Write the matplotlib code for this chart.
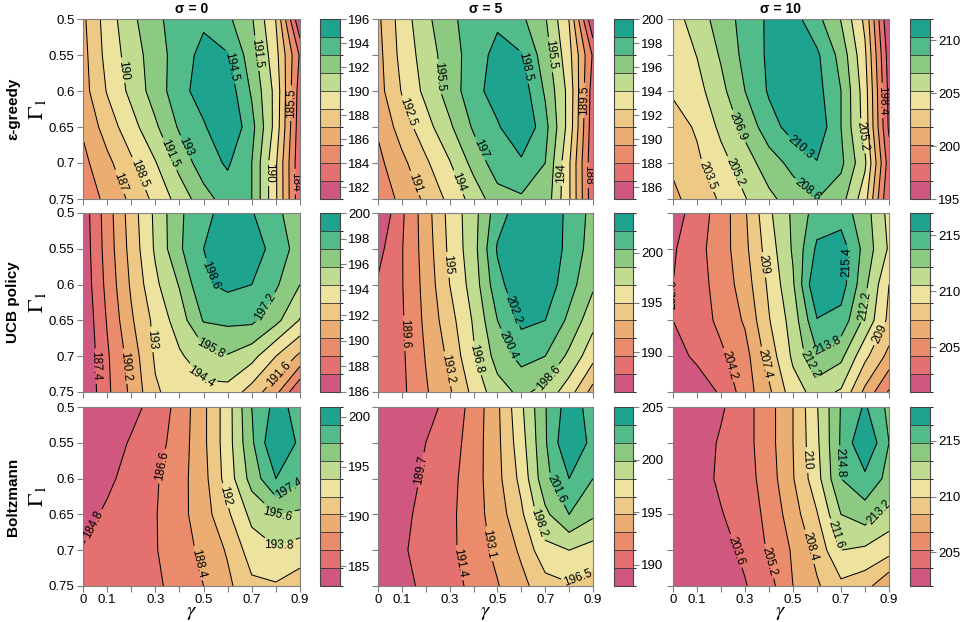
import numpy as np
import matplotlib
matplotlib.use("Agg")
import matplotlib.pyplot as plt

plt.rcParams['font.family'] = ['Liberation Sans', 'DejaVu Sans']
plt.rcParams['mathtext.fontset'] = 'stix'

# grid axes
gamma = [0.0, 0.1, 0.2, 0.3, 0.4, 0.5, 0.6, 0.7, 0.8, 0.9]
gamma1 = [0.5, 0.55, 0.6, 0.65, 0.7, 0.75]

sigma_titles = ["σ = 0", "σ = 5", "σ = 10"]
policy_names = ["ε-greedy", "UCB policy", "Boltzmann"]

# mean reward, rows = Gamma1 (0.5 .. 0.75), columns = gamma (0 .. 0.9)
eps_s0 = [
    [186.7, 189.2, 191.1, 192.7, 193.6, 194.2, 193.3, 191.65, 188.45, 181.0],
    [186.5, 189.0, 190.7, 192.3, 193.7, 195.0, 194.6, 192.2, 189.0, 183.8],
    [186.4, 188.6, 190.4, 192.2, 193.9, 195.3, 195.4, 192.8, 189.5, 183.2],
    [185.7, 187.7, 189.4, 191.25, 193.2, 194.3, 196.0, 193.5, 189.4, 183.0],
    [185.1, 186.6, 188.25, 189.9, 192.0, 193.8, 194.7, 193.0, 188.7, 182.8],
    [184.5, 185.9, 187.3, 188.9, 190.6, 192.4, 193.7, 193.0, 188.7, 182.9],
]
eps_s5 = [
    [190.7, 193.2, 195.1, 196.7, 197.6, 198.2, 197.3, 195.65, 192.45, 185.0],
    [190.5, 193.0, 194.7, 196.3, 197.7, 199.0, 198.6, 196.2, 193.0, 187.8],
    [190.4, 192.6, 194.4, 196.2, 197.9, 199.3, 199.4, 196.8, 193.5, 187.2],
    [189.7, 191.7, 193.4, 195.25, 197.2, 198.3, 200.0, 197.5, 193.4, 187.0],
    [189.1, 190.6, 192.25, 193.9, 196.0, 197.8, 198.2, 197.0, 192.7, 186.8],
    [188.5, 189.9, 191.3, 192.9, 194.6, 196.4, 196.8, 196.5, 192.7, 186.9],
]
eps_s10 = [
    [204.5, 206.0, 207.7, 209.2, 210.6, 211.0, 209.1, 206.8, 203.1, 195.0],
    [204.0, 205.25, 207.1, 209.1, 210.6, 211.6, 210.6, 208.0, 203.8, 195.8],
    [203.7, 204.6, 206.4, 208.6, 210.5, 212.0, 210.9, 208.6, 204.3, 196.2],
    [202.8, 203.7, 205.6, 207.4, 209.6, 211.0, 211.5, 208.6, 204.5, 196.4],
    [202.1, 203.2, 204.6, 206.1, 207.8, 209.1, 210.2, 209.0, 205.5, 197.5],
    [201.4, 202.6, 203.7, 205.1, 206.5, 207.7, 208.6, 207.6, 204.2, 196.7],
]
ucb_s0 = [
    [186.6, 189.5, 192.3, 194.7, 197.0, 198.1, 199.3, 198.7, 197.5, 196.4],
    [186.5, 189.4, 192.1, 194.6, 197.0, 198.6, 200.0, 199.4, 198.0, 196.6],
    [186.4, 189.2, 191.8, 194.1, 195.9, 198.4, 198.9, 198.6, 197.4, 195.8],
    [186.2, 188.9, 191.4, 193.4, 195.1, 197.3, 197.5, 197.5, 196.2, 194.3],
    [186.1, 188.6, 190.8, 193.2, 194.2, 195.2, 195.7, 194.9, 193.0, 191.3],
    [186.0, 188.5, 190.5, 192.8, 193.7, 194.0, 193.9, 192.4, 190.6, 187.4],
]
ucb_s5 = [
    [186.0, 189.3, 192.4, 195.6, 197.9, 201.4, 203.2, 203.4, 201.8, 199.8],
    [187.2, 189.5, 192.2, 195.4, 197.9, 202.4, 204.0, 203.7, 201.6, 199.6],
    [188.0, 189.5, 192.0, 195.0, 197.6, 201.6, 203.6, 203.3, 201.1, 198.9],
    [188.3, 189.4, 191.8, 194.3, 197.0, 200.4, 202.6, 202.2, 200.0, 197.4],
    [188.4, 189.3, 191.5, 193.6, 196.6, 199.3, 201.0, 200.4, 198.2, 195.6],
    [188.5, 189.2, 191.2, 193.0, 195.5, 197.9, 199.0, 198.0, 195.8, 192.5],
]
ucb_s10 = [
    [201.8, 203.4, 204.9, 207.2, 210.3, 212.5, 214.5, 214.6, 212.9, 210.1],
    [202.4, 203.7, 205.0, 207.0, 209.8, 212.4, 215.7, 216.3, 213.2, 210.4],
    [202.6, 203.6, 204.8, 206.6, 209.3, 212.0, 217.0, 216.2, 212.6, 209.0],
    [202.6, 203.4, 204.6, 206.0, 208.9, 211.3, 215.3, 214.8, 211.8, 208.6],
    [202.0, 202.9, 203.9, 205.2, 208.1, 210.9, 213.6, 212.6, 209.4, 206.9],
    [201.0, 201.7, 202.8, 205.0, 207.1, 209.9, 211.2, 210.4, 207.0, 204.0],
]
boltz_s0 = [
    [183.0, 183.3, 184.2, 185.5, 187.2, 189.8, 193.0, 197.4, 199.8, 198.6],
    [183.1, 183.8, 185.0, 185.9, 187.4, 189.8, 193.0, 197.1, 201.0, 198.8],
    [183.6, 184.4, 185.5, 186.4, 187.7, 189.6, 192.8, 196.3, 199.2, 197.6],
    [184.2, 185.1, 185.9, 186.5, 187.8, 189.4, 191.7, 194.3, 195.6, 195.3],
    [184.9, 185.4, 186.0, 186.5, 187.5, 188.9, 190.4, 192.9, 193.6, 193.0],
    [185.3, 185.5, 185.9, 186.3, 187.2, 188.4, 189.8, 191.6, 191.8, 191.0],
]
boltz_s5 = [
    [188.0, 188.3, 189.0, 190.3, 192.0, 194.5, 197.9, 201.5, 204.2, 202.6],
    [188.1, 188.6, 189.7, 190.6, 192.2, 194.4, 197.5, 201.4, 205.0, 202.7],
    [188.3, 188.9, 190.0, 190.9, 192.3, 194.3, 197.0, 201.1, 203.3, 201.6],
    [188.6, 189.3, 190.2, 191.0, 192.4, 193.9, 196.2, 199.5, 201.6, 200.2],
    [188.8, 189.5, 190.3, 191.0, 192.3, 193.5, 195.1, 197.7, 198.2, 197.5],
    [188.9, 189.3, 190.0, 190.8, 191.8, 193.0, 194.3, 195.8, 196.3, 195.6],
]
boltz_s10 = [
    [202.0, 202.5, 203.4, 204.6, 206.2, 208.4, 211.5, 214.9, 216.6, 214.4],
    [202.1, 202.8, 203.8, 204.6, 206.2, 208.4, 211.3, 215.0, 218.0, 214.8],
    [202.2, 202.9, 203.9, 204.5, 206.0, 208.3, 211.0, 214.8, 216.0, 214.3],
    [202.3, 202.8, 203.5, 204.4, 205.6, 207.7, 209.9, 213.2, 214.0, 212.5],
    [202.2, 202.6, 203.1, 203.9, 205.4, 207.0, 208.9, 211.6, 211.3, 210.6],
    [202.1, 202.4, 202.9, 203.5, 204.6, 206.8, 208.2, 209.6, 209.0, 207.0],
]

panels = [
    [eps_s0, eps_s5, eps_s10],
    [ucb_s0, ucb_s5, ucb_s10],
    [boltz_s0, boltz_s5, boltz_s10],
]

# contour labels: (level, gamma, Gamma1) near which the label is placed
labels = [
    [[(194.5, 0.542, 0.571), (190, 0.167, 0.571), (191.5, 0.361, 0.687),
      (193, 0.431, 0.677), (188.5, 0.236, 0.714), (187, 0.153, 0.726),
      (191.5, 0.708, 0.548), (185.5, 0.868, 0.617), (190, 0.743, 0.714),
      (184, 0.875, 0.726)],
     [(191, 0.169, 0.726), (192.5, 0.156, 0.626), (195.5, 0.260, 0.580),
      (194, 0.343, 0.726), (197, 0.447, 0.677), (198.5, 0.538, 0.571),
      (195.5, 0.711, 0.550), (194, 0.767, 0.714), (189.5, 0.857, 0.613),
      (188, 0.885, 0.717)],
     [(206.9, 0.264, 0.650), (203.5, 0.146, 0.717), (205.2, 0.25, 0.714),
      (210.3, 0.535, 0.677), (208.6, 0.597, 0.726), (205.2, 0.778, 0.663),
      (198.4, 0.889, 0.613)]],
    [[(187.4, 0.035, 0.714), (190.2, 0.167, 0.714), (193, 0.264, 0.677),
      (194.4, 0.486, 0.730), (195.8, 0.528, 0.688), (197.2, 0.729, 0.626),
      (198.6, 0.583, 0.582), (191.6, 0.806, 0.723)],
     [(195, 0.267, 0.573), (189.6, 0.1, 0.668), (193.2, 0.267, 0.719),
      (196.8, 0.371, 0.707), (202.2, 0.628, 0.628), (200.4, 0.593, 0.677),
      (198.6, 0.704, 0.728)],
     [(202.6, 0.007, 0.614), (204.2, 0.236, 0.712), (207.4, 0.368, 0.712),
      (209, 0.361, 0.573), (212.2, 0.549, 0.716), (213.8, 0.625, 0.677),
      (215.4, 0.66, 0.568), (212.2, 0.826, 0.631), (209, 0.882, 0.672)]],
    [[(184.8, 0.056, 0.667), (186.6, 0.347, 0.584), (188.4, 0.479, 0.718),
      (192, 0.576, 0.625), (195.6, 0.806, 0.649), (193.8, 0.806, 0.686),
      (197.4, 0.819, 0.595)],
     [(189.7, 0.183, 0.588), (191.4, 0.364, 0.716), (193.1, 0.468, 0.691),
      (198.2, 0.669, 0.663), (196.5, 0.801, 0.718), (201.6, 0.801, 0.605)],
     [(203.6, 0.271, 0.700), (205.2, 0.417, 0.714), (208.4, 0.569, 0.695),
      (210, 0.556, 0.574), (211.6, 0.722, 0.674), (213.2, 0.855, 0.645),
      (214.8, 0.778, 0.577)]],
]

cbar_ticks = [
    [[182, 184, 186, 188, 190, 192, 194, 196],
     [186, 188, 190, 192, 194, 196, 198, 200],
     [195, 200, 205, 210]],
    [[186, 188, 190, 192, 194, 196, 198, 200],
     [190, 195, 200],
     [205, 210, 215]],
    [[185, 190, 195, 200],
     [190, 195, 200, 205],
     [205, 210, 215]],
]

gamma_ticklabels = ["0", "0.1", "", "0.3", "", "0.5", "", "0.7", "", "0.9"]
gamma1_ticklabels = ["0.5", "0.55", "0.6", "0.65", "0.7", "0.75"]

band_colors = ["#d0587e", "#e4706f", "#ea8c6c", "#ecad72", "#edc985",
               "#ede39e", "#c0dc90", "#8cc981", "#52bb8a", "#1ea38f"]
cmap = matplotlib.colors.ListedColormap(band_colors)

W, H = 961, 622
fig = plt.figure(figsize=(W / 100, H / 100), dpi=100)

col_x = [(83, 300, 320, 340), (378, 593, 614, 633), (673, 889, 910, 930)]
row_y = [(19, 199), (213, 392), (407, 586)]
grey = "#808080"

X, Y = np.meshgrid(gamma, gamma1)


def point_on_level(ax, cl, level, gx, gy):
    # point of the given level's contour closest (on screen) to (gx, gy)
    idx = int(np.argmin(np.abs(np.asarray(cl.levels) - level)))
    if abs(cl.levels[idx] - level) > 0.01:
        return None
    path = cl.get_paths()[idx]
    verts = path.vertices
    codes = path.codes
    if len(verts) < 2:
        return None
    scr = ax.transData.transform(verts)
    t = ax.transData.transform((gx, gy))
    best, best_pt = np.inf, None
    for i in range(len(verts) - 1):
        if codes is not None and (codes[i + 1] in (1, 79) or codes[i] == 79):
            continue
        a, b = scr[i], scr[i + 1]
        ab = b - a
        den = float(ab @ ab)
        u = 0.0 if den == 0 else float(np.clip((t - a) @ ab / den, 0, 1))
        p = a + u * ab
        d = float(((p - t) ** 2).sum())
        if d < best:
            best, best_pt = d, p
    if best_pt is None:
        return None
    return tuple(ax.transData.inverted().transform(best_pt))


for r in range(3):
    y0, y1 = row_y[r]
    for c in range(3):
        x0, x1, cx0, cx1 = col_x[c]
        Z = np.array(panels[r][c])
        levels = np.linspace(Z.min(), Z.max(), 11)
        norm = matplotlib.colors.BoundaryNorm(levels, cmap.N)

        ax = fig.add_axes([x0 / W, 1 - y1 / H, (x1 - x0) / W, (y1 - y0) / H])
        cf = ax.contourf(X, Y, Z, levels=levels, cmap=cmap, norm=norm)
        cl = ax.contour(X, Y, Z, levels=levels, colors="black", linewidths=0.75)
        ax.set_xlim(0, 0.9)
        ax.set_ylim(0.75, 0.5)

        for lv, gx, gy in labels[r][c]:
            pt = point_on_level(ax, cl, lv, gx, gy)
            if pt is None:
                continue
            ax.clabel(cl, manual=[pt], fontsize=8.5, inline=True,
                      inline_spacing=3, fmt=lambda v: f"{round(v, 1):g}")

        ax.set_xticks(gamma)
        ax.set_yticks(gamma1)
        if r == 2:
            ax.set_xticklabels(gamma_ticklabels, fontsize=9.5)
        else:
            ax.set_xticklabels([])
        if c == 0:
            ax.set_yticklabels(gamma1_ticklabels, fontsize=9.5)
        else:
            ax.set_yticklabels([])
        ax.tick_params(direction="out", length=4, width=0.8, color=grey, pad=2)
        for sp in ax.spines.values():
            sp.set_color(grey)
            sp.set_linewidth(0.8)

        # colour key
        cax = fig.add_axes([cx0 / W, 1 - y1 / H, (cx1 - cx0) / W, (y1 - y0) / H])
        cb = fig.colorbar(cf, cax=cax, drawedges=True)
        cb.dividers.set_color("#333333")
        cb.dividers.set_linewidth(0.6)
        cb.outline.set_edgecolor("#444444")
        cb.outline.set_linewidth(0.8)
        cb.set_ticks(cbar_ticks[r][c])
        cb.set_ticklabels([str(t) for t in cbar_ticks[r][c]])
        cax.tick_params(labelsize=9.5, length=4, width=0.8, color=grey, pad=2)

        if r == 0:
            fig.text((x0 + x1) / 2 / W, 1 - 9 / H, sigma_titles[c],
                     ha="center", va="center", fontsize=10, fontweight="bold")
        if r == 2:
            fig.text((x0 + x1) / 2 / W, 1 - 613 / H, r"$\gamma$",
                     ha="center", va="center", fontsize=15)

    yc = 1 - (y0 + y1) / 2 / H
    fig.text(13 / W, yc, policy_names[r], rotation=90, ha="center",
             va="center", fontsize=11, fontweight="bold")
    fig.text(37 / W, yc, r"$\Gamma_1$", rotation=90, ha="center",
             va="center", fontsize=16)

fig.savefig("out.png", dpi=100)
